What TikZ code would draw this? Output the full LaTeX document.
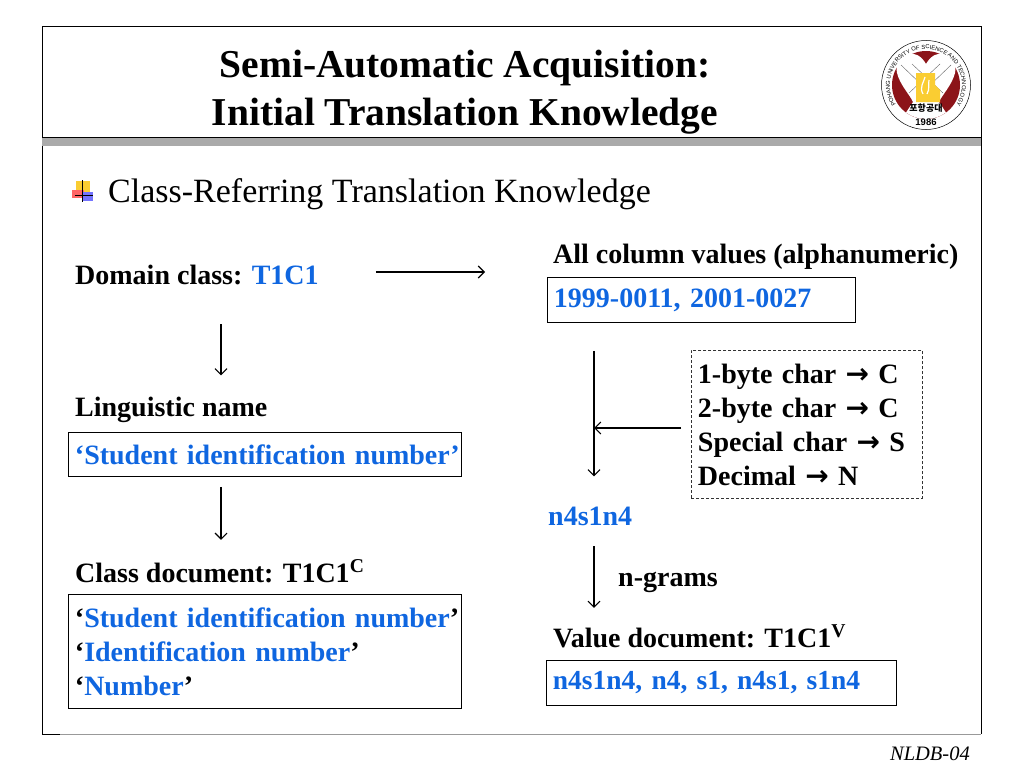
\documentclass[tikz,border=0pt]{standalone}
\usepackage{fontspec}
\setmainfont{Liberation Serif}
\newfontfamily\arrowfont{DejaVu Sans}
\newfontfamily\krfont{Noto Sans CJK KR}
\setsansfont{Liberation Sans}
\usetikzlibrary{arrows.meta, positioning, decorations.text}
\definecolor{linkblue}{RGB}{15,102,224}
\definecolor{logored}{RGB}{140,20,25}
\definecolor{logoyellow}{RGB}{250,205,50}
\definecolor{bandgray}{RGB}{170,170,170}
\newcommand\blue[1]{\textcolor{linkblue}{#1}}
\newcommand\toarrow{{\arrowfont\bfseries\symbol{"2192}}}
\tikzstyle{arrow} = [line width=1.1pt,-{Straight Barb[length=6pt,width=12pt]}]
\tikzstyle{lbl} = [anchor=base west, inner sep=0pt, font=\fontsize{28}{34}\selectfont\bfseries, align=left]
\tikzset{
	valuebox/.style = {rectangle, draw=black, line width=0.9pt, anchor=north west, inner xsep=0pt, inner ysep=0pt,
		font=\fontsize{28}{34}\selectfont\bfseries, text=linkblue, align=left,
		execute at begin node={\advance\leftskip by 6.5pt}},
}
\begin{document}
\begin{tikzpicture}[x=1pt,y=-1pt]
\useasboundingbox (0,0) rectangle (1024,768);
%----------------------------------------------------------------------------
% Slide frame and title
\draw [line width=0.9pt] (60,734) -- (42,734) -- (42,26) -- (981,26) -- (981,734);
\draw [line width=1pt, black!40] (60,734.5) -- (981,734.5);
\fill [bandgray] (42,137) rectangle (981,146);
\draw [line width=0.9pt] (42,137) -- (981,137);
\node (title) [align=center, inner sep=0pt, font=\fontsize{39.5}{48}\selectfont\bfseries] at (465,92) {Semi-Automatic Acquisition:\\Initial Translation Knowledge};
\node (footer) [anchor=base east, inner sep=0pt, font=\fontsize{20.5}{22}\selectfont\itshape] at (970,760) {NLDB-04};

%----------------------------------------------------------------------------
% Bullet
\fill [logoyellow] (76,181) rectangle (90,193);
\fill [red!60!white] (72,190) rectangle (84,198);
\fill [blue!55!white] (82,192) rectangle (93,201);
\draw [line width=0.9pt] (82,180) -- (82,202) (75,195.5) -- (93,195.5);
\node (heading) [anchor=base west, inner sep=0pt, font=\fontsize{34}{36}\selectfont] at (108,202) {Class-Referring Translation Knowledge};

%----------------------------------------------------------------------------
% Left column
\node (domain) [lbl] at (75,284) {Domain class: \blue{T1C1}};
\node (linguisticName) [lbl, below=132pt of domain.base west, anchor=base west] {Linguistic name};
\node (linguisticBox) [valuebox, minimum height=44pt, text width=393pt] at (68,432) {‘Student identification number’};
\node (classDoc) [lbl] at (75,582) {Class document: T1C1\textsuperscript{C}};
\node (classBox) [valuebox, text=black, minimum height=114pt, text width=393pt] at (68,594) {‘\blue{Student identification number}’\\‘\blue{Identification number}’\\‘\blue{Number}’};

%----------------------------------------------------------------------------
% Right column
\node (valuesName) [lbl] at (553,263) {All column values (alphanumeric)};
\node (valuesBox) [valuebox, minimum height=45pt, text width=308pt] at (547,277) {1999-0011, 2001-0027};
\node (charRules) [valuebox, dash pattern=on 3pt off 2pt, draw=black!80, text=black, minimum height=148pt, text width=231pt] at (691,350) {1-byte char \toarrow{} C\\2-byte char \toarrow{} C\\Special char \toarrow{} S\\Decimal \toarrow{} N};
\node (pattern) [lbl, text=linkblue] at (548,525) {n4s1n4};
\node (ngrams) [lbl] at (618,586) {n-grams};
\node (valueDoc) [lbl] at (553,647) {Value document: T1C1\textsuperscript{V}};
\node (valueBox) [valuebox, minimum height=45pt, text width=350pt, font=\fontsize{27.5}{34}\selectfont\bfseries] at (546,660) {n4s1n4, n4, s1, n4s1, s1n4};

%----------------------------------------------------------------------------
% Lines
\coordinate (leftX) at (221,0);
\coordinate (rightX) at (594,0);
\coordinate (topY) at (0,272);
\coordinate (midY) at (0,428);
\draw [arrow, shorten <=57pt, shorten >=62pt] (domain.east |- topY) -- (valuesBox.west |- topY);
\draw [arrow, shorten <=40pt, shorten >=21pt] (leftX |- domain.base) -- (leftX |- linguisticName.north);
\draw [arrow, shorten <=10pt, shorten >=20pt] (leftX |- linguisticBox.south) -- (leftX |- classDoc.north);
\draw [arrow, shorten <=28pt, shorten >=30pt] (rightX |- valuesBox.south) -- (rightX |- pattern.north);
\draw [arrow, shorten <=10pt] (charRules.west |- midY) -- (rightX |- midY);
\draw [arrow, shorten <=21pt, shorten >=17pt] (rightX |- pattern.base) -- (rightX |- valueDoc.north);

%----------------------------------------------------------------------------
% Logo
\begin{scope}[shift={(926,85)},y=1pt]
\draw [line width=0.5pt, fill=white] (0,0) circle (44.5);
\fill [logored] (0,0) circle (34);
\fill [white] (0,21) .. controls (-5,30) and (-12,32) .. (-16,31) .. controls (-26,28) and (-31,22) .. (-29,12) .. controls (-26,0) and (-16,-10) .. (-13,-17) -- (-20,-27.5) arc (234:306:34) -- (13,-17) .. controls (16,-10) and (26,0) .. (29,12) .. controls (31,22) and (26,28) .. (16,31) .. controls (12,32) and (5,30) .. (0,21) -- cycle;
\draw [black!60, line width=0.4pt] (-25,20) -- (0,-4) -- (25,20) (-17,-8) -- (14,21) (17,-8) -- (-14,21);
\fill [logoyellow] (-10,12) -- (9,12) -- (9,0) -- (14,-5) -- (14,-17) -- (-10,-17) -- cycle;
\draw [white, line width=1.2pt] (-3,-9) .. controls (-7,-2) and (-2,3) .. (-1,8) (1,-9) .. controls (4,-4) and (2,1) .. (3,5);
\node (logoKr) [inner sep=0pt, font=\krfont\fontsize{9}{10}\selectfont\bfseries] at (0,-23) {포항공대};
\node (logoYear) [inner sep=0pt, font=\sffamily\fontsize{9.5}{10}\selectfont\bfseries] at (0,-37) {1986};
\path [decorate, decoration={text along path, text align=center, text={|\sffamily\fontsize{5.8}{7}\selectfont|POHANG UNIVERSITY OF SCIENCE AND TECHNOLOGY}}] (225:36) arc (225:-45:36);
\end{scope}
\end{tikzpicture}
\end{document}
